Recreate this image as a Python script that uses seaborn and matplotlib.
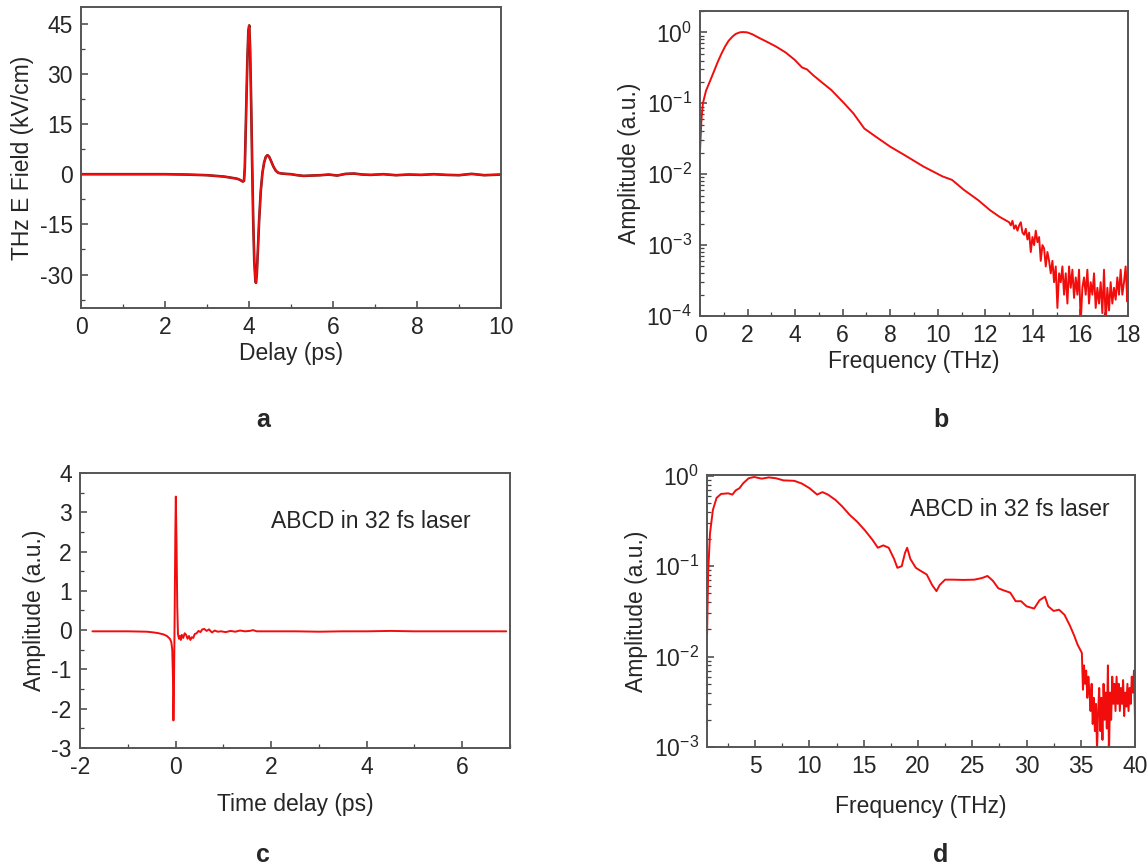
import matplotlib
matplotlib.use("Agg")
from matplotlib import pyplot as plt
from matplotlib.ticker import MultipleLocator, LogLocator, NullFormatter
import seaborn as sns

# panel a: THz field vs delay
delay_a = [0, 1.0, 2.0, 2.5, 3.0, 3.2, 3.4, 3.5, 3.6, 3.7, 3.75, 3.8, 3.85, 3.88,
           3.90, 3.93, 3.96, 3.985, 4.005, 4.025, 4.05, 4.075, 4.10, 4.125, 4.15,
           4.165, 4.185, 4.21, 4.24, 4.28, 4.32, 4.36, 4.40, 4.44, 4.48, 4.53,
           4.58, 4.64, 4.70, 4.78, 4.88, 5.0, 5.15, 5.3, 5.5, 5.7, 5.9, 6.1, 6.3,
           6.5, 6.7, 6.9, 7.2, 7.5, 7.8, 8.1, 8.4, 8.7, 9.0, 9.3, 9.6, 10.0]
field_a = [0, 0, 0, -0.1, -0.3, -0.5, -0.7, -0.9, -1.1, -1.3, -1.5, -1.8, -2.2, -2.0,
           2, 18, 34, 43, 44.5, 38, 22, 3, -14, -26, -31.5,
           -32.5, -30, -23, -14, -5, 0.5, 3.5, 5.2, 5.7, 5.2, 3.8,
           2.3, 1.0, 0.4, 0.2, 0.1, 0.0, -0.3, -0.5, -0.4, -0.3, -0.1, -0.4, 0.1,
           0.2, -0.1, -0.2, 0, -0.3, -0.1, -0.2, 0, -0.2, -0.3, 0.1, -0.3, -0.1]

# panel b: spectrum of panel a
freq_b = [0.0, 0.06, 0.12, 0.25, 0.43, 0.6, 0.74, 0.9, 1.05, 1.2, 1.36, 1.5, 1.67, 1.8,
          1.98, 2.2, 2.44, 2.8, 3.2, 3.6, 3.98, 4.29, 4.5, 4.75, 5.1, 5.52, 6.06, 6.45,
          6.91, 7.38, 8.0, 8.6, 9.4, 10.2, 10.6, 11.1, 11.7, 12.2, 12.6,
          13.0, 13.07, 13.14, 13.21, 13.28, 13.35, 13.42, 13.49, 13.56, 13.63, 13.7,
          13.77, 13.84, 13.91, 13.98, 14.05, 14.12, 14.19, 14.26, 14.33, 14.40, 14.47,
          14.54, 14.61, 14.68, 14.75, 14.82, 14.89, 14.96, 15.03, 15.10, 15.17, 15.24,
          15.31, 15.38, 15.45, 15.52, 15.59, 15.66, 15.73, 15.80, 15.87, 15.94, 16.01,
          16.08, 16.15, 16.22, 16.29, 16.36, 16.43, 16.50, 16.57, 16.64, 16.71, 16.78,
          16.85, 16.92, 16.99, 17.06, 17.13, 17.20, 17.27, 17.34, 17.41, 17.48, 17.55,
          17.62, 17.69, 17.76, 17.83, 17.90, 17.97, 18.0]
amp_b = [0.022, 0.06, 0.1, 0.15, 0.21, 0.29, 0.38, 0.5, 0.63, 0.76, 0.87, 0.95, 1.0, 1.01,
         1.0, 0.94, 0.85, 0.74, 0.63, 0.52, 0.41, 0.32, 0.3, 0.25, 0.2, 0.154, 0.1, 0.072,
         0.044, 0.034, 0.0244, 0.0186, 0.0128, 0.0093, 0.0083, 0.006, 0.0043, 0.0031, 0.0025,
         2.1e-3, 1.9e-3, 2.2e-3, 1.7e-3, 1.9e-3, 1.6e-3, 1.9e-3, 2.1e-3, 1.5e-3, 1.4e-3, 1.7e-3,
         1.2e-3, 1.5e-3, 8e-4, 1.3e-3, 1.0e-3, 1.6e-3, 1.1e-3, 1.3e-3, 6e-4, 1.0e-3, 9e-4,
         5e-4, 8e-4, 6e-4, 4e-4, 6e-4, 3e-4, 5e-4, 1.3e-4, 4e-4, 3e-4, 5e-4,
         2e-4, 4e-4, 1.5e-4, 5e-4, 2.5e-4, 4.5e-4, 1.8e-4, 3.5e-4, 2e-4, 4.5e-4, 8e-5,
         2.5e-4, 3.5e-4, 2e-4, 4.5e-4, 1.5e-4, 3e-4, 2e-4, 4e-4, 1.3e-4, 2.5e-4, 1.5e-4,
         3e-4, 1.1e-4, 4.5e-4, 8e-5, 2.5e-4, 1.2e-4, 3e-4, 1.5e-4, 2.5e-4, 1.7e-4, 3.5e-4,
         2e-4, 4.5e-4, 2e-4, 3e-4, 5e-4, 1.6e-4, 2.2e-4]

# panel c: ABCD waveform
delay_c = [-1.74, -1.0, -0.6, -0.45, -0.35, -0.25, -0.18, -0.12, -0.09, -0.07, -0.055,
           -0.045, -0.035, -0.02, -0.005, 0.005, 0.02, 0.035, 0.05, 0.07, 0.09, 0.11,
           0.13, 0.16, 0.19, 0.22, 0.25, 0.28, 0.31, 0.34, 0.37, 0.40, 0.44, 0.48, 0.52,
           0.56, 0.60, 0.65, 0.70, 0.76, 0.82, 0.88, 0.95, 1.05, 1.15, 1.25, 1.35, 1.45,
           1.55, 1.62, 1.7, 2.0, 2.5, 3.0, 3.5, 4.0, 4.5, 5.0, 5.5, 6.0, 6.5, 6.92]
amp_c = [-0.03, -0.03, -0.04, -0.06, -0.08, -0.11, -0.15, -0.22, -0.3, -0.5, -1.2,
         -2.3, -1.6, 0.3, 2.5, 3.4, 2.2, 0.6, -0.1, -0.22, -0.15, -0.25,
         -0.12, -0.2, -0.08, -0.12, -0.22, -0.15, -0.25, -0.18, -0.2, -0.1, -0.08, -0.02, -0.05,
         0.02, 0.03, -0.02, 0.02, -0.06, -0.01, -0.04, -0.03, -0.05, -0.02, -0.04, -0.01, -0.03,
         -0.02, 0.0, -0.03, -0.03, -0.03, -0.04, -0.03, -0.03, -0.02, -0.03, -0.03, -0.03, -0.03, -0.03]

# panel d: ABCD spectrum
freq_d = [0.56, 0.66, 0.83, 1.1, 1.44, 1.85, 2.5, 2.9, 3.2, 3.55, 3.9, 4.4, 4.9, 5.6,
          6.25, 6.9, 7.6, 8.6, 9.3, 10.0, 10.7, 11.2, 11.7, 12.4, 13.0, 13.7, 14.4, 15.1,
          15.8, 16.3, 16.8, 17.3, 17.8, 18.1, 18.5, 18.8, 19.0, 19.3, 19.8, 20.3, 20.8,
          21.3, 21.7, 22.0, 22.5, 23.2, 24.2, 25.2, 25.9, 26.4, 26.9, 27.4, 27.9, 28.5,
          29.0, 29.5, 30.0, 30.7, 31.2, 31.7, 32.0, 32.5, 33.0, 33.5, 34.0, 34.4, 34.7,
          35.1, 35.2, 35.3, 35.4, 35.5, 35.6, 35.7, 35.8, 35.9, 36.0, 36.1, 36.2, 36.3,
          36.4, 36.5, 36.6, 36.7, 36.8, 36.9, 37.0, 37.1, 37.2, 37.3, 37.4, 37.5, 37.6,
          37.7, 37.8, 37.9, 38.0, 38.1, 38.2, 38.3, 38.4, 38.5, 38.6, 38.7, 38.8, 38.9,
          39.0, 39.1, 39.2, 39.3, 39.4, 39.5, 39.6, 39.7, 39.8, 39.9, 40.0]
amp_d = [0.0175, 0.084, 0.23, 0.42, 0.57, 0.63, 0.64, 0.62, 0.69, 0.73, 0.83, 0.94, 0.97, 0.93,
         0.96, 0.94, 0.89, 0.88, 0.82, 0.73, 0.62, 0.66, 0.62, 0.54, 0.46, 0.37, 0.31, 0.25,
         0.196, 0.16, 0.17, 0.16, 0.12, 0.096, 0.1, 0.14, 0.16, 0.12, 0.096, 0.088, 0.081,
         0.062, 0.053, 0.062, 0.071, 0.071, 0.0705, 0.071, 0.074, 0.078, 0.069, 0.057, 0.054, 0.051,
         0.041, 0.041, 0.036, 0.034, 0.042, 0.046, 0.036, 0.032, 0.033, 0.029, 0.022, 0.017, 0.0136,
         0.011, 0.0043, 8e-3, 5e-3, 7e-3, 3.5e-3, 6e-3, 4e-3, 2.5e-3, 5e-3, 1.8e-3, 3.5e-3, 1.5e-3,
         3e-3, 9e-4, 2.5e-3, 4.5e-3, 1.5e-3, 3.5e-3, 1.2e-3, 5e-3, 2e-3, 4e-3, 1.6e-3, 8e-3, 8e-4,
         4e-3, 2e-3, 6e-3, 3e-3, 5e-3, 2.5e-3, 6e-3, 3e-3, 5e-3, 2.5e-3, 4.5e-3, 3e-3, 5.5e-3,
         2.2e-3, 4e-3, 2.8e-3, 5e-3, 2.5e-3, 4.5e-3, 3e-3, 6e-3, 4e-3, 7e-3, 2e-3]

note_text = "ABCD in 32 fs laser"

sns.set_theme(style="ticks")
plt.rcParams['font.family'] = ['Liberation Sans', 'DejaVu Sans']
plt.rcParams['mathtext.fontset'] = 'custom'
plt.rcParams['mathtext.rm'] = 'Liberation Sans'
plt.rcParams['axes.unicode_minus'] = False

fig = plt.figure(figsize=(11.48, 8.67), dpi=100)
ax_a = fig.add_axes([0.0706, 0.6448, 0.3658, 0.3471])
ax_b = fig.add_axes([0.6098, 0.6355, 0.3728, 0.3518])
ax_c = fig.add_axes([0.0697, 0.1373, 0.3746, 0.3171])
ax_d = fig.add_axes([0.6159, 0.1384, 0.3728, 0.3137])

red = "#f20d0d"

sns.lineplot(x=delay_a, y=field_a, ax=ax_a, color="#6a2020", linewidth=1.9)
sns.lineplot(x=delay_a, y=field_a, ax=ax_a, color=red, linewidth=1.3)
sns.lineplot(x=freq_b, y=amp_b, ax=ax_b, color=red, linewidth=1.4)
sns.lineplot(x=delay_c, y=amp_c, ax=ax_c, color=red, linewidth=1.4)
sns.lineplot(x=freq_d, y=amp_d, ax=ax_d, color=red, linewidth=1.4)

# axes a
ax_a.set_xlim(0, 10)
ax_a.set_ylim(-40, 50)
ax_a.xaxis.set_major_locator(MultipleLocator(2))
ax_a.xaxis.set_minor_locator(MultipleLocator(1))
ax_a.yaxis.set_major_locator(MultipleLocator(15))
ax_a.yaxis.set_minor_locator(MultipleLocator(7.5))
ax_a.set_xlabel("Delay (ps)", labelpad=2)
ax_a.set_ylabel("THz E Field (kV/cm)")

# axes b
ax_b.set_yscale("log")
ax_b.set_xlim(0, 18)
ax_b.set_ylim(1e-4, 2)
ax_b.xaxis.set_major_locator(MultipleLocator(2))
ax_b.xaxis.set_minor_locator(MultipleLocator(1))
ax_b.set_xlabel("Frequency (THz)", labelpad=2)
ax_b.set_ylabel("Amplitude (a.u.)")

# axes c
ax_c.set_xlim(-2, 7)
ax_c.set_ylim(-3, 4)
ax_c.xaxis.set_major_locator(MultipleLocator(2))
ax_c.xaxis.set_minor_locator(MultipleLocator(1))
ax_c.yaxis.set_major_locator(MultipleLocator(1))
ax_c.yaxis.set_minor_locator(MultipleLocator(0.5))
ax_c.set_xlabel("Time delay (ps)", labelpad=10)
ax_c.set_ylabel("Amplitude (a.u.)")
ax_c.text(2.0, 2.77, note_text, fontsize=16.5, va="center", ha="left")

# axes d
ax_d.set_yscale("log")
ax_d.set_xlim(0.56, 40)
ax_d.set_ylim(1e-3, 1.02)
ax_d.xaxis.set_major_locator(MultipleLocator(5))
ax_d.xaxis.set_minor_locator(MultipleLocator(2.5))
ax_d.set_xlabel("Frequency (THz)", labelpad=12)
ax_d.set_ylabel("Amplitude (a.u.)")
ax_d.text(19.3, 0.42, note_text, fontsize=16.5, va="center", ha="left")

for ax in [ax_b, ax_d]:
    ax.yaxis.set_major_locator(LogLocator(base=10, numticks=10))
    ax.yaxis.set_minor_locator(LogLocator(base=10, subs=range(2, 10), numticks=10))
    ax.yaxis.set_minor_formatter(NullFormatter())

for ax in [ax_a, ax_b, ax_c, ax_d]:
    for sp in ax.spines.values():
        sp.set_color("#555555")
        sp.set_linewidth(1.4)
        sp.set_visible(True)
    ax.tick_params(which="both", direction="in", top=False, right=False,
                   color="#444444", labelsize=16.5, pad=6)
    ax.tick_params(which="major", length=5, width=1.1)
    ax.tick_params(which="minor", length=3, width=0.9)
    ax.xaxis.label.set_size(16.5)
    ax.yaxis.label.set_size(16.5)

fig.text(263 / 1148, 1 - 420 / 867, "a", fontsize=18, fontweight="bold", ha="center", va="center")
fig.text(941 / 1148, 1 - 420 / 867, "b", fontsize=18, fontweight="bold", ha="center", va="center")
fig.text(263 / 1148, 1 - 855 / 867, "c", fontsize=18, fontweight="bold", ha="center", va="center")
fig.text(941 / 1148, 1 - 855 / 867, "d", fontsize=18, fontweight="bold", ha="center", va="center")

fig.savefig("out.png", dpi=100)
